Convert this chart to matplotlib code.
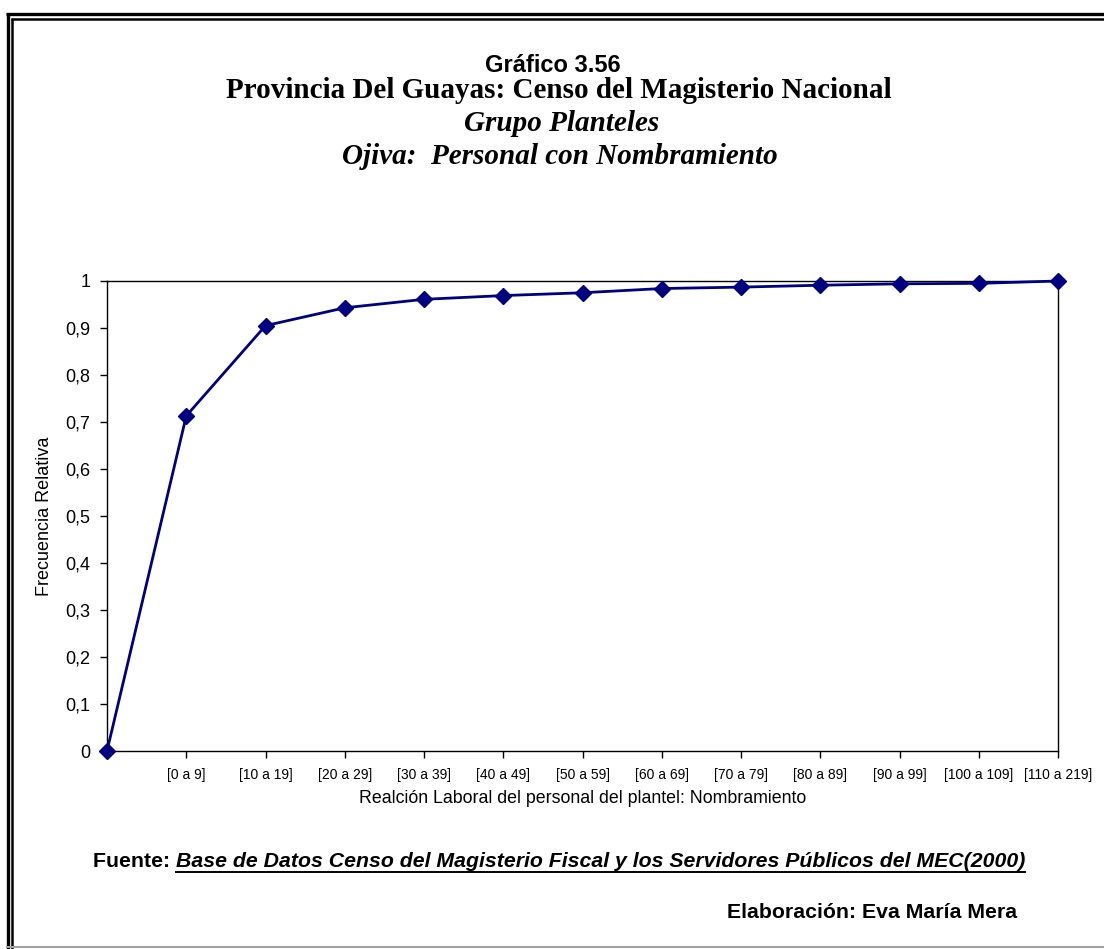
import matplotlib
matplotlib.use('Agg')
import matplotlib.pyplot as plt
from matplotlib.lines import Line2D

# Datos (ojiva, frecuencia relativa acumulada)
categorias = ['', '[0 a 9]', '[10 a 19]', '[20 a 29]', '[30 a 39]', '[40 a 49]',
              '[50 a 59]', '[60 a 69]', '[70 a 79]', '[80 a 89]', '[90 a 99]',
              '[100 a 109]', '[110 a 219]']
frecuencia = [0.0, 0.713, 0.905, 0.943, 0.961, 0.969, 0.975, 0.984, 0.987,
              0.991, 0.994, 0.995, 1.0]
y_ticks = [0, 0.1, 0.2, 0.3, 0.4, 0.5, 0.6, 0.7, 0.8, 0.9, 1]
y_labels = ['0', '0,1', '0,2', '0,3', '0,4', '0,5', '0,6', '0,7', '0,8', '0,9', '1']

W, H = 1104, 949
SANS = 'Liberation Sans'
SERIF = 'Liberation Serif'

fig = plt.figure(figsize=(W / 100, H / 100), dpi=100)

def fx(px):
    return px / W

def fy(py):
    return 1 - py / H

ax = fig.add_axes([fx(107), fy(751), fx(1058) - fx(107), fy(281) - fy(751)])
x = list(range(len(categorias)))
ax.plot(x, frecuencia, color='#000080', lw=2, marker='D', ms=8,
        markerfacecolor='#000080', markeredgecolor='#000080', clip_on=False, zorder=5)
ax.set_xlim(0, len(categorias) - 1)
ax.set_ylim(0, 1)
ax.set_xticks(x[1:])
ax.set_xticklabels(categorias[1:], fontsize=10, family=SANS)
ax.set_yticks(y_ticks)
ax.set_yticklabels(y_labels, fontsize=13, family=SANS)
ax.tick_params(axis='both', direction='out', length=5, width=1, color='black')
ax.tick_params(axis='x', pad=7)
ax.tick_params(axis='y', pad=7)
for s in ax.spines.values():
    s.set_color('black')
    s.set_linewidth(1)
ax.set_xlabel('Realción Laboral del personal del plantel: Nombramiento',
              fontsize=12.8, family=SANS, labelpad=6)
ax.set_ylabel('Frecuencia Relativa', fontsize=13, family=SANS, labelpad=9)

# Títulos
fig.text(fx(553), fy(72), 'Gráfico 3.56', ha='center', va='baseline',
         fontsize=17, fontweight='bold', family=SANS)
fig.text(fx(559), fy(98), 'Provincia Del Guayas: Censo del Magisterio Nacional',
         ha='center', va='baseline', fontsize=21, fontweight='bold', family=SERIF)
fig.text(fx(562), fy(131), 'Grupo Planteles', ha='center', va='baseline',
         fontsize=21, fontweight='bold', style='italic', family=SERIF)
fig.text(fx(560), fy(164), 'Ojiva:  Personal con Nombramiento', ha='center', va='baseline',
         fontsize=21, fontweight='bold', style='italic', family=SERIF)

# Pie: fuente subrayada
t1 = fig.text(fx(93), fy(867), 'Fuente: ', ha='left', va='baseline',
              fontsize=15.3, fontweight='bold', family=SANS)
fig.canvas.draw()
r = fig.canvas.get_renderer()
bb1 = t1.get_window_extent(r)
t2 = fig.text(bb1.x1 / W, fy(867), 'Base de Datos Censo del Magisterio Fiscal y los Servidores Públicos del MEC(2000)',
              ha='left', va='baseline', fontsize=15.3, fontweight='bold', style='italic', family=SANS)
fig.canvas.draw()
bb2 = t2.get_window_extent(r)
fig.add_artist(Line2D([bb2.x0 / W, bb2.x1 / W], [fy(872), fy(872)],
                      transform=fig.transFigure, color='black', lw=1.4))

fig.text(fx(1017), fy(918), 'Elaboración: Eva María Mera', ha='right', va='baseline',
         fontsize=15.3, fontweight='bold', family=SANS)

# Marco doble
def linea(xs, ys, lw, color='black'):
    fig.add_artist(Line2D([fx(v) for v in xs], [fy(v) for v in ys],
                          transform=fig.transFigure, color=color, lw=lw,
                          solid_capstyle='butt'))

linea([6, W], [14, 14], 2.4)
linea([7.5, 7.5], [12.5, H], 2.4)
linea([11, W], [19, 19], 1.8)
linea([12, 12], [18, H], 1.8)
linea([6, W], [947, 947], 1.5, color='#a0a0a0')

fig.savefig('out.png', dpi=100)
